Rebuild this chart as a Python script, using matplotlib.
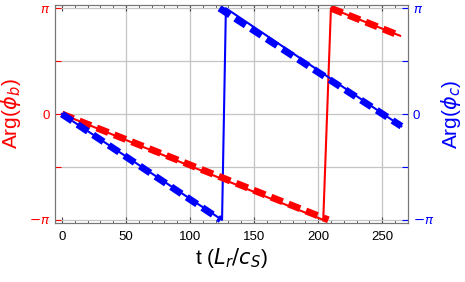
import numpy as np
import matplotlib.pyplot as plt

plt.rcParams["font.family"] = ["Liberation Sans", "DejaVu Sans"]
plt.rcParams["mathtext.fontset"] = "dejavusans"

pi = np.pi

# -----------------------------
# Data
# -----------------------------
# thin solid lines (phase with wrap-around jump)
red_t = [0, 204, 210, 264]
red_phase = [0, -pi, pi, 0.74 * pi]
blue_t = [0, 125, 128, 265]
blue_phase = [0, -pi, pi, -0.115 * pi]

# thick dashed branches
red_dash_t = [0, 208, np.nan, 210, 264]
red_dash_phase = [0, -pi, np.nan, pi, 0.74 * pi]
blue_dash_t = [0, 124, np.nan, 123, 265]
blue_dash_phase = [0, -pi, np.nan, pi, -0.115 * pi]

x_ticks = [0, 50, 100, 150, 200, 250]
y_ticks = [-pi, -pi / 2, 0, pi / 2, pi]
y_labels = [r"$-\pi$", "", "0", "", r"$\pi$"]

# -----------------------------
# Plot
# -----------------------------
fig = plt.figure(figsize=(4.65, 2.82), dpi=100)
ax = fig.add_axes([0.118, 0.209, 0.759, 0.773])

ax.plot(red_t, red_phase, color="#ff0000", lw=1.5)
ax.plot(blue_t, blue_phase, color="#0000ff", lw=1.5)
ax.plot(red_dash_t, red_dash_phase, color="#ff0000", lw=5, dashes=(1.8, 0.9))
ax.plot(blue_dash_t, blue_dash_phase, color="#0000ff", lw=5, dashes=(1.8, 0.9))

ax.set_xlim(-5.5, 270)
ax.set_ylim(-1.03 * pi, 1.03 * pi)

ax.set_xticks(x_ticks)
ax.set_xticks(np.arange(0, 271, 10), minor=True)
ax.set_yticks(y_ticks)
ax.set_yticklabels(y_labels)
ax.grid(True, color="#c4c4c4", lw=0.9)
ax.xaxis.get_gridlines()[0].set_visible(False)

ax.tick_params(axis="x", which="both", direction="in", top=True, labelsize=9.5,
               color="#444444", pad=6)
ax.tick_params(axis="x", which="major", length=4)
ax.tick_params(axis="x", which="minor", length=2)
ax.tick_params(axis="y", direction="in", length=4, color="#ff0000",
               labelcolor="#ff0000", labelsize=9.5)

for s in ax.spines.values():
    s.set_color("#777777")

ax2 = ax.twinx()
ax2.set_ylim(ax.get_ylim())
ax2.set_yticks(y_ticks)
ax2.set_yticklabels(y_labels)
ax2.tick_params(axis="y", direction="in", length=4, color="#0000ff",
                labelcolor="#0000ff", labelsize=9.5)
for s in ax2.spines.values():
    s.set_color("#777777")

ax.set_xlabel(r"t ($L_r/c_S$)", fontsize=15, labelpad=2)
ax.set_ylabel(r"Arg($\phi_b$)", fontsize=15, color="#ff0000")
ax2.set_ylabel(r"Arg($\phi_c$)", fontsize=15, color="#0000ff")

fig.savefig("out.png", dpi=100)
